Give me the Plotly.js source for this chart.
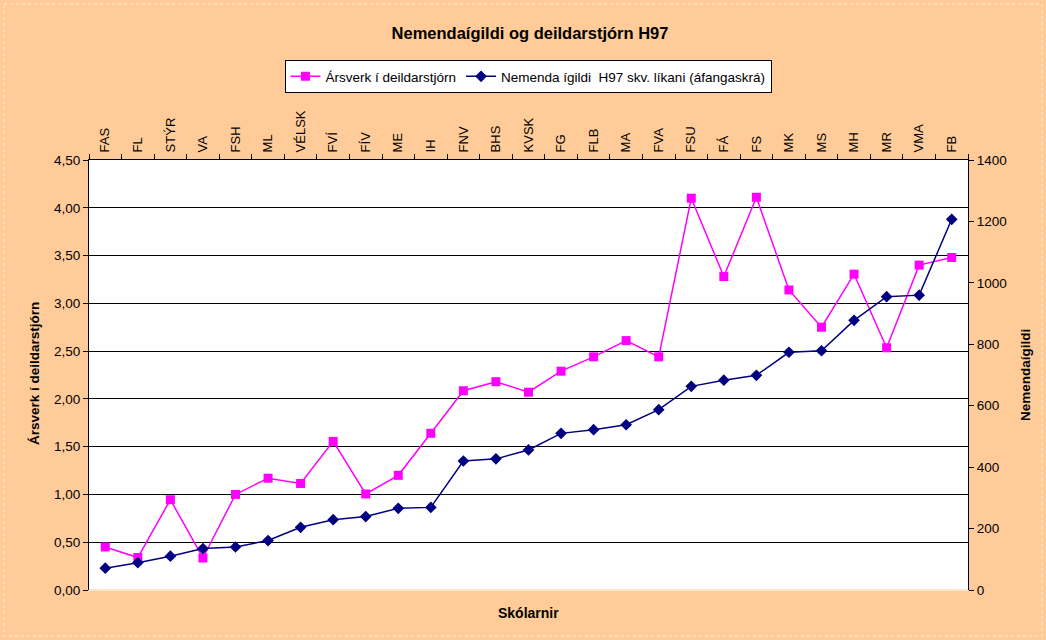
<!DOCTYPE html>
<html>
<head>
<meta charset="utf-8">
<script src="https://cdn.plot.ly/plotly-3.0.1.min.js"></script>
<style>
html,body{margin:0;padding:0;background:#FFCC99;}
#chart{width:1046px;height:640px;}
</style>
</head>
<body>
<div id="chart"></div>
<script>
const schools = ["FAS","FL","STÝR","VA","FSH","ML","VÉLSK","FVÍ","FÍV","ME","IH","FNV","BHS","KVSK","FG","FLB","MA","FVA","FSU","FÁ","FS","MK","MS","MH","MR","VMA","FB"];
const arsverk = [0.45,0.34,0.945,0.335,1.00,1.17,1.115,1.555,1.005,1.20,1.64,2.085,2.18,2.07,2.29,2.44,2.61,2.44,4.10,3.28,4.11,3.14,2.75,3.305,2.535,3.40,3.48];
const nemendaigildi = [71,89,110,135,140,161,204,229,239,266,269,420,427,456,510,522,538,587,663,683,699,774,779,878,955,960,1207];

const traces = [
  {
    x: schools, y: arsverk, name: "Ársverk í deildarstjórn",
    type: "scatter", mode: "lines+markers",
    line: {color: "#FF00FF", width: 1.5},
    marker: {symbol: "square", size: 9, color: "#FF00FF"},
    yaxis: "y"
  },
  {
    x: schools, y: nemendaigildi, name: "Nemenda ígildi  H97 skv. líkani (áfangaskrá)",
    type: "scatter", mode: "lines+markers",
    line: {color: "#000080", width: 1.5},
    marker: {symbol: "diamond", size: 9, color: "#000080"},
    yaxis: "y2"
  }
];

const W = 1046, H = 640, L = 89, R = 78, T = 160, B = 50;
const pw = W - L - R, ph = H - T - B;
const px = v => (v - L) / pw;
const py = v => (H - B - v) / ph;

const layout = {
  width: W, height: H,
  margin: {l: L, r: R, t: T, b: B, pad: 0},
  paper_bgcolor: "#FFCC99",
  plot_bgcolor: "#FFFFFF",
  separators: ",.",
  font: {family: "Arial, Liberation Sans, sans-serif", size: 13, color: "#000"},
  title: {
    text: "<b>Nemendaígildi og deildarstjórn H97</b>",
    font: {size: 16.5, color: "#000"},
    x: px(530), xref: "paper", xanchor: "center", y: 1 - 33 / H, yref: "container", yanchor: "middle"
  },
  showlegend: true,
  legend: {
    orientation: "h",
    x: px(528), xanchor: "center",
    y: py(60), yanchor: "top",
    bgcolor: "#FFFFFF", bordercolor: "#000000", borderwidth: 1,
    font: {size: 13.5, color: "#000"},
    itemwidth: 30, tracegroupgap: 0
  },
  xaxis: {
    type: "category", side: "top",
    showline: true, linecolor: "#000", linewidth: 1,
    ticks: "outside", tickson: "boundaries", ticklen: 5, tickcolor: "#000",
    tickangle: -90, tickfont: {size: 13, color: "#000"}, ticklabelstandoff: 4,
    showgrid: false, zeroline: false, mirror: false,
    range: [-0.5, schools.length - 0.5], fixedrange: true
  },
  yaxis: {
    range: [0, 4.5], dtick: 0.5, tick0: 0, tickformat: ".2f",
    showline: true, linecolor: "#000", linewidth: 1,
    ticks: "outside", ticklen: 5, tickcolor: "#000",
    showgrid: true, gridcolor: "#000", gridwidth: 1, zeroline: false,
    tickfont: {size: 13.5, color: "#000"}
  },
  yaxis2: {
    range: [0, 1400], dtick: 200, tick0: 0, overlaying: "y", side: "right",
    showline: true, linecolor: "#000", linewidth: 1,
    ticks: "outside", ticklen: 5, tickcolor: "#000",
    showgrid: false, zeroline: false,
    tickfont: {size: 13.5, color: "#000"}
  },
  annotations: [
    {text: "<b>Skólarnir</b>", xref: "paper", yref: "paper", x: px(528), y: py(613),
     showarrow: false, font: {size: 14, color: "#000"}, xanchor: "center", yanchor: "middle"},
    {text: "<b>Ársverk í deildarstjórn</b>", xref: "paper", yref: "paper", x: px(34), y: py(374),
     showarrow: false, textangle: -90, font: {size: 13.5, color: "#000"}, xanchor: "center", yanchor: "middle"},
    {text: "<b>Nemendaígildi</b>", xref: "paper", yref: "paper", x: px(1025), y: py(375),
     showarrow: false, textangle: -90, font: {size: 13.5, color: "#000"}, xanchor: "center", yanchor: "middle"}
  ],
  shapes: [
    {type: "line", xref: "paper", yref: "paper", x0: 0, x1: 1, y0: 0, y1: 0,
     line: {color: "#FFE6C8", width: 2}, layer: "above"},
    {type: "rect", xref: "paper", yref: "paper", x0: px(4), x1: px(1042), y0: py(4), y1: py(636),
     line: {color: "#FFE2C0", width: 1.5, dash: "dot"}, fillcolor: "rgba(0,0,0,0)", layer: "below"}
  ]
};

Plotly.newPlot("chart", traces, layout, {displayModeBar: false, staticPlot: true});
</script>
</body>
</html>
